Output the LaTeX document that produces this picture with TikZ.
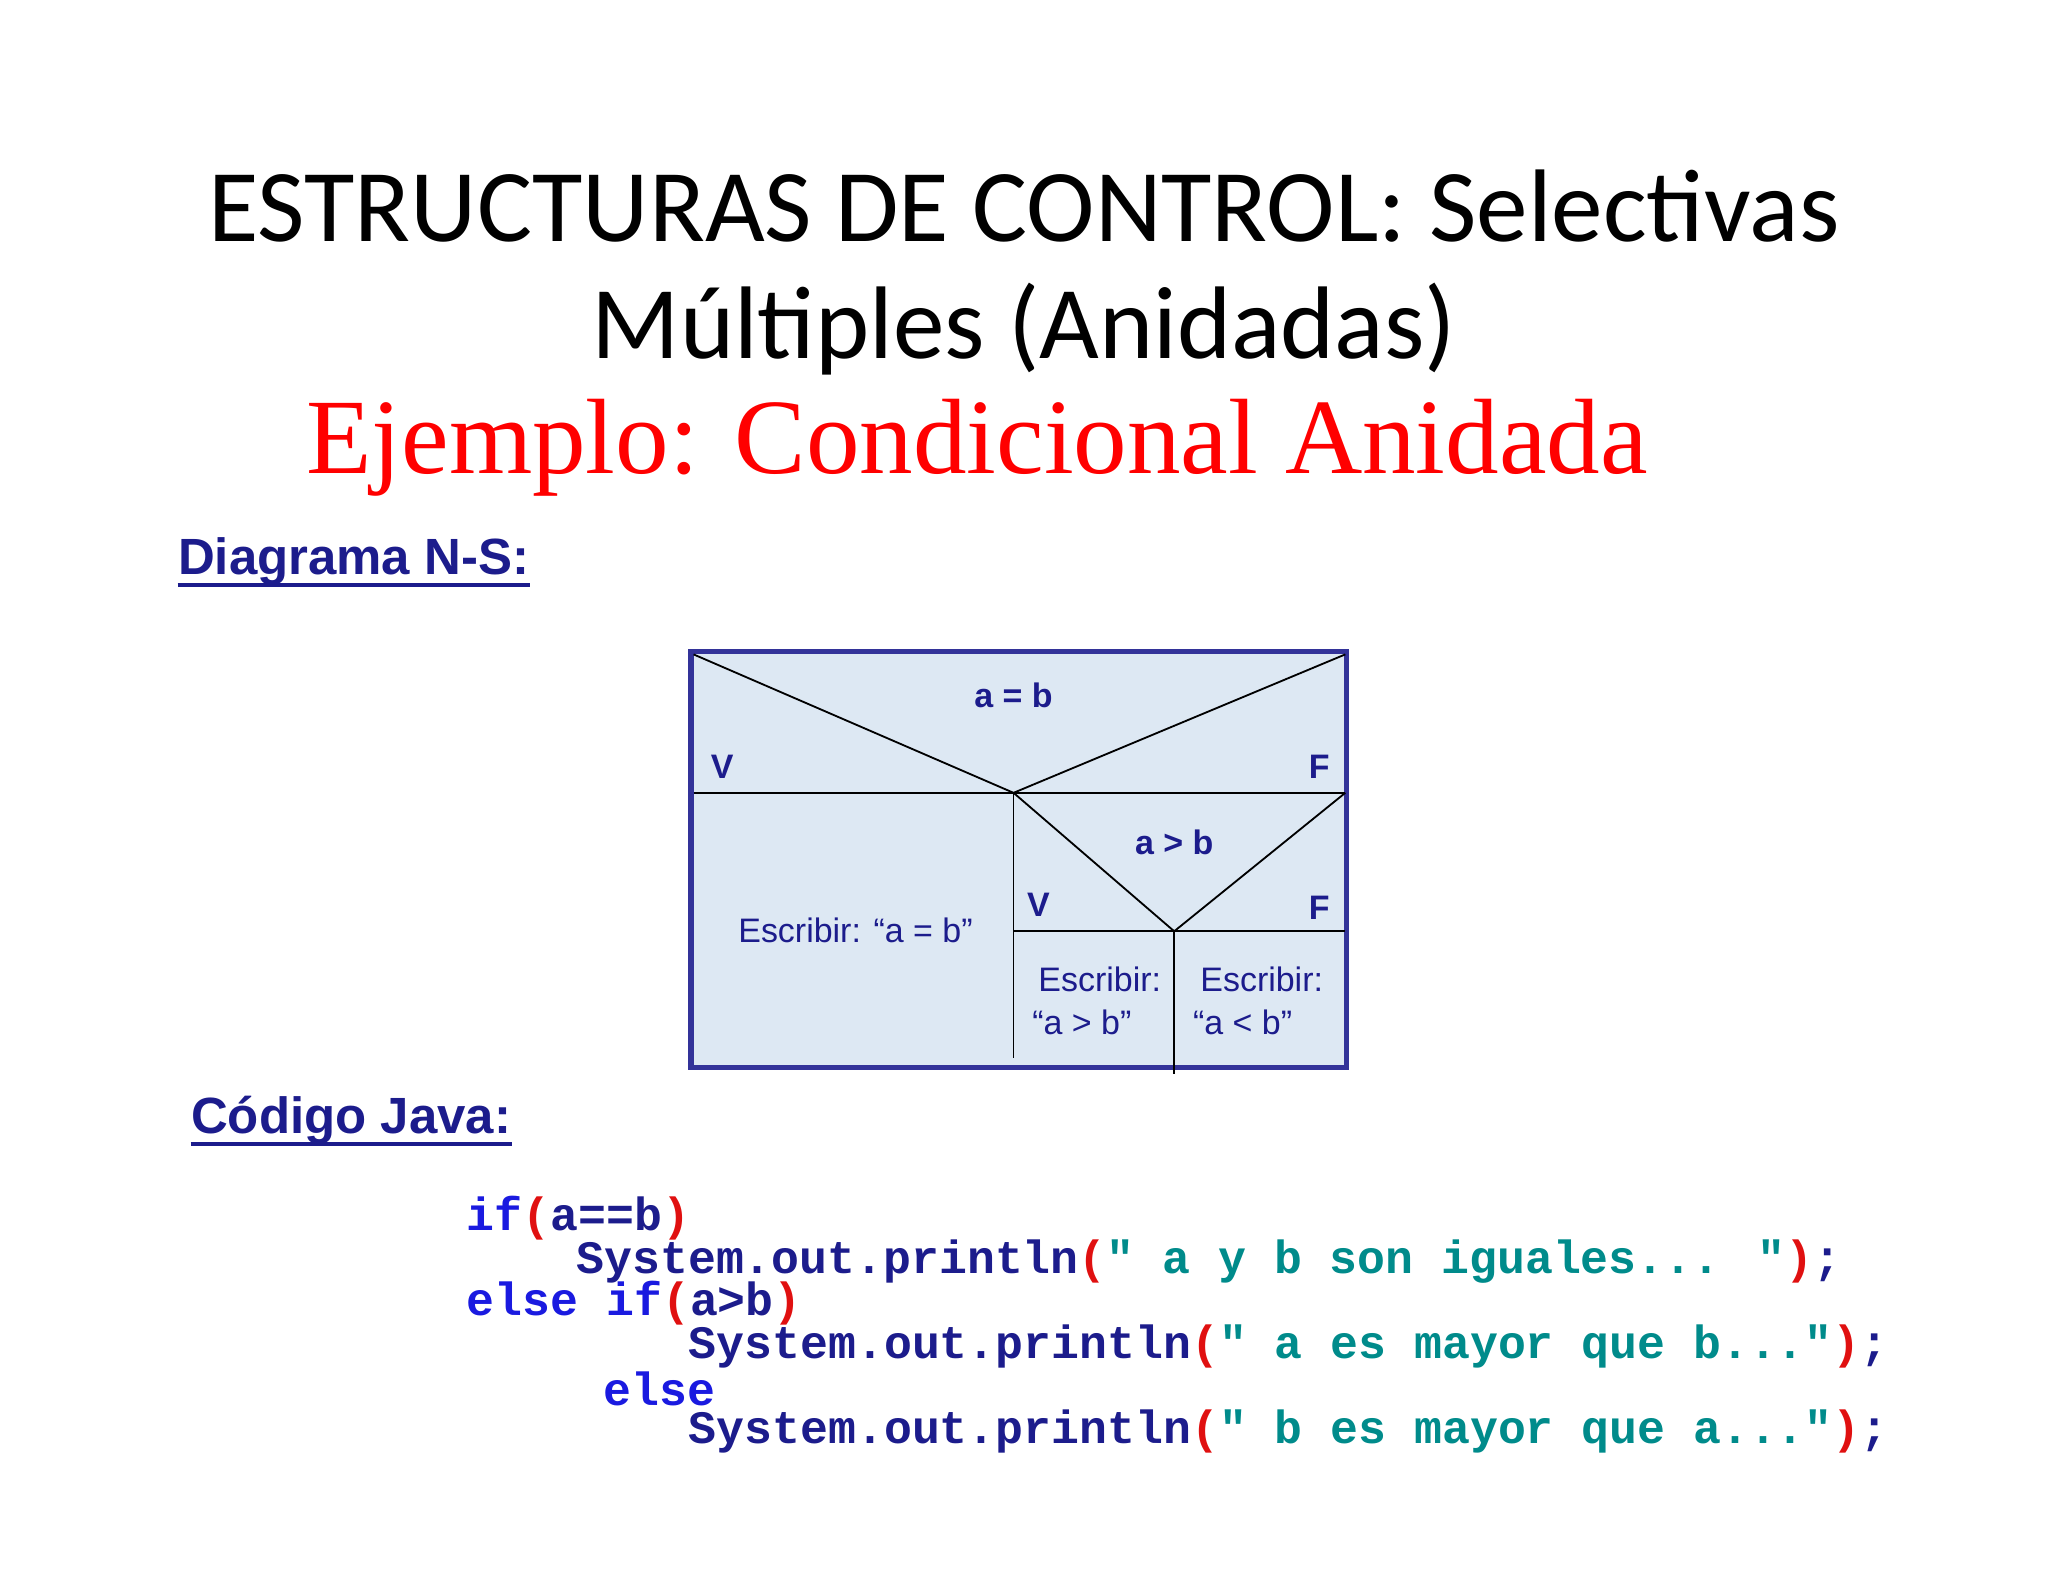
\documentclass[tikz,border=0pt]{standalone}
\usepackage{fontspec}
\setmainfont{Liberation Sans}
\newfontfamily\calib{Carlito}
\newfontfamily\tms{Liberation Serif}
\newfontfamily\cour{Liberation Mono}
\definecolor{navy}{HTML}{1C1C8C}
\definecolor{boxblue}{HTML}{333399}
\definecolor{boxfill}{HTML}{DDE8F3}
\definecolor{kw}{HTML}{1A1AE0}
\definecolor{par}{HTML}{E01010}
\definecolor{str}{HTML}{008B8B}
\begin{document}
\begin{tikzpicture}[x=0.5pt,y=-0.5pt,
  every node/.style={inner sep=0pt},
  title/.style={font=\calib\fontsize{39.5}{46}\selectfont},
  head/.style={font=\bfseries\fontsize{19.5}{22}\selectfont,text=navy,anchor=west},
  uline/.style={navy,line width=1.6pt},
  lbl/.style={font=\bfseries\fontsize{13}{15}\selectfont,text=navy},
  txt/.style={font=\fontsize{13}{15}\selectfont,text=navy},
  code/.style={font=\cour\bfseries\fontsize{17.8}{20}\selectfont,text=navy,anchor=west},
  ln/.style={black,line width=0.7pt}]
\useasboundingbox (0,0) rectangle (1568,1210);
\node[title] (t1) at (784,158) {ESTRUCTURAS DE CONTROL: Selectivas};
\node[title] (t2) at (784,252) {Múltiples (Anidadas)};
\node[font=\tms\fontsize{41}{46}\selectfont,text=red] (t3) at (748,343) {Ejemplo: Condicional Anidada};
\node[head] (h1) at (136,430) {Diagrama N-S:};
\draw[uline] ([yshift=-4pt]h1.base west) -- ([yshift=-4pt]h1.base east);
\node[head] (h2) at (146,858) {Código Java:};
\draw[uline] ([yshift=-4pt]h2.base west) -- ([yshift=-4pt]h2.base east);
% box
\draw[boxblue,line width=2pt,fill=boxfill] (529,499) rectangle (1031,817);
\coordinate (tl) at (531,501); \coordinate (tr) at (1030,501);
\coordinate (p1) at (776,607); \coordinate (l1) at (531,607); \coordinate (r1) at (1030,607);
\coordinate (p2) at (899,713); \coordinate (r2) at (1030,713);
\coordinate (b1) at (776,810); \coordinate (b2) at (899,822);
\draw[ln] (tl) -- (p1) -- (tr);
\draw[ln] (l1) -- (r1);
\draw[ln] (p1) -- (b1);
\draw[ln] (p1) -- (p2) -- (r1);
\draw[ln] (p1 |- p2) -- (r2);
\draw[ln] (p2) -- (b2);
\node[lbl] (c1) at (776,532) {a = b};
\node[lbl] (v1) at (553,587) {V};
\node[lbl] (f1) at (1010,587) {F};
\node[lbl] (c2) at (899,645) {a > b};
\node[lbl] (v2) at (795,693) {V};
\node[lbl] (f2) at (1010,695) {F};
\node[txt] (e1) at (655,712) {Escribir: “a = b”};
\node[txt] (e2) at (842,750) {Escribir:};
\node[txt,anchor=west] (e2b) at (790,783) {“a > b”};
\node[txt] (e3) at (966,750) {Escribir:};
\node[txt,anchor=west] (e3b) at (913,783) {“a < b”};
% code
\node[code] (k1) at (357,933) {\textcolor{kw}{if}\textcolor{par}{(}a==b\textcolor{par}{)}};
\node[code] (k2) at (441,966) {System.out.println\textcolor{par}{(}\textcolor{str}{" a y b son iguales... "}\textcolor{par}{)};};
\node[code] (k3) at (357,998) {\textcolor{kw}{else if}\textcolor{par}{(}a>b\textcolor{par}{)}};
\node[code] (k4) at (527,1031) {System.out.println\textcolor{par}{(}\textcolor{str}{" a es mayor que b..."}\textcolor{par}{)};};
\node[code] (k5) at (462,1063) {\textcolor{kw}{else}};
\node[code] (k6) at (527,1096) {System.out.println\textcolor{par}{(}\textcolor{str}{" b es mayor que a..."}\textcolor{par}{)};};
\end{tikzpicture}
\end{document}
